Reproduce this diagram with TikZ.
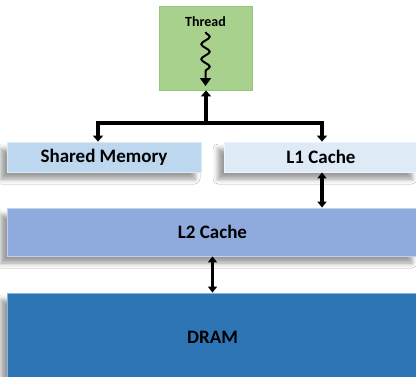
\documentclass[tikz,border=0pt]{standalone}
\usepackage{fontspec}
\setmainfont{Carlito}
\usetikzlibrary{arrows.meta,shadows.blur,decorations.pathmorphing}
\definecolor{threadgreen}{RGB}{169,209,142}
\definecolor{threadedge}{RGB}{150,198,120}
\definecolor{smem}{RGB}{189,215,238}
\definecolor{lone}{RGB}{222,235,247}
\definecolor{ltwo}{RGB}{143,170,220}
\definecolor{dramblue}{RGB}{46,117,182}
\begin{document}
\begin{tikzpicture}[x=1pt,y=-1pt,
  membox/.style={rectangle, inner sep=0pt, draw=#1!55!white, line width=0.8pt, fill=#1,
    font=\bfseries\fontsize{19}{22}\selectfont,
    blur shadow={shadow xshift=-6pt, shadow yshift=-7pt, shadow blur radius=5pt, shadow opacity=40}},
  bus/.style={line width=4.5pt, line join=miter, {Triangle[width=10pt,length=6pt]}-{Triangle[width=10pt,length=6pt]}},
  link/.style={line width=3.5pt, {Triangle[width=9pt,length=6pt]}-{Triangle[width=9pt,length=6pt]}},
  up/.style={line width=4.5pt, {Triangle[width=10pt,length=6pt]}-}
]
\useasboundingbox (0,0) rectangle (416,376);
\fill[white] (0,0) rectangle (416,376);

% thread box
\node[rectangle, inner sep=0pt, fill=threadgreen, draw=threadedge, line width=0.8pt,
  minimum width=93pt, minimum height=84pt] (thread) at (205.5,48) {};
\node[font=\bfseries\fontsize{14}{16}\selectfont, inner sep=0pt] (threadlbl) at (205.5,22) {Thread};
\coordinate (wtop) at (205.5,32);
\coordinate (wbot) at (205.5,86);
\draw[line width=2pt, decorate,
  decoration={snake, amplitude=4.2pt, segment length=15pt, post length=10pt},
  -{Triangle[width=11pt,length=8pt]}] (wtop) -- (wbot);

% memory boxes
\node[membox=smem, minimum width=194pt, minimum height=30pt] (shared) at (104,157) {Shared Memory};
\node[membox=lone, minimum width=194pt, minimum height=30pt] (l1) at (321,157) {L1 Cache};
\node[membox=ltwo, minimum width=411pt, minimum height=48pt] (l2) at (212.5,232) {L2 Cache};
\node[membox=dramblue, minimum width=411pt, minimum height=88pt] (dram) at (212.5,337) {DRAM};

% bus
\coordinate (busL) at (98,123);
\coordinate (busM) at (206,123);
\coordinate (busR) at (322,123);
\draw[bus] (busL |- shared.north) -- (busL) -- (busR) -- (busR |- l1.north);
\draw[up] (busM |- thread.south) -- (busM);

% links
\draw[link] (busR |- l1.south) -- (busR |- l2.north);
\draw[link] (l2.south) -- (dram.north);
\end{tikzpicture}
\end{document}
